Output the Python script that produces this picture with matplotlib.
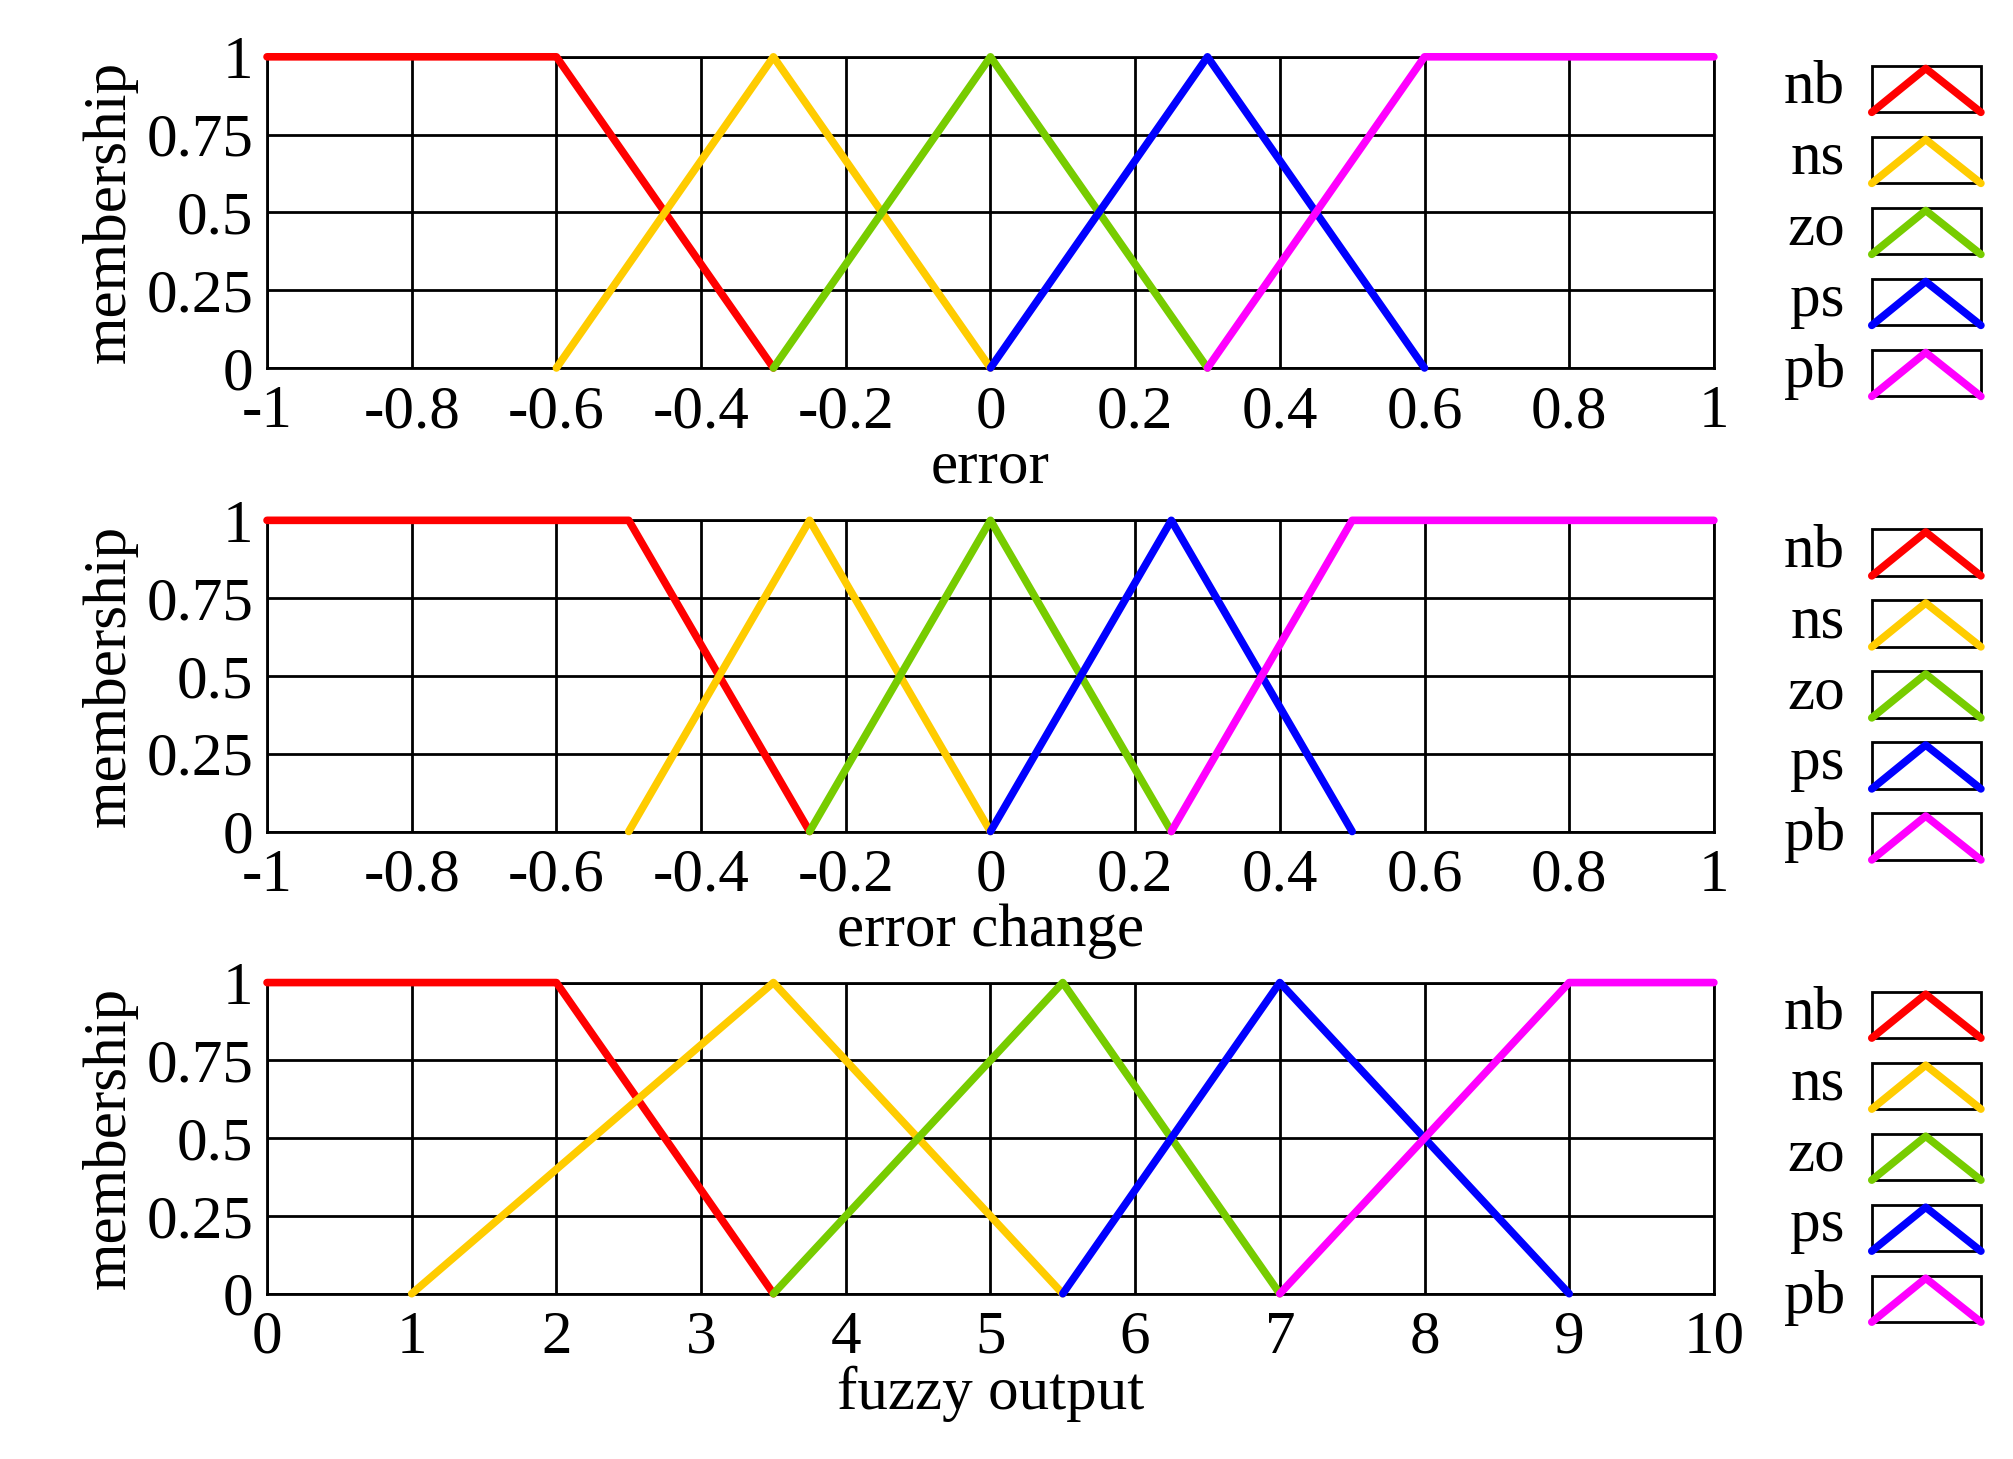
import matplotlib.pyplot as plt
import numpy as np

plt.rcParams['font.family'] = ['Liberation Serif', 'DejaVu Serif']

labels = ['nb', 'ns', 'zo', 'ps', 'pb']
colors = ['#ff0000', '#ffcc00', '#77cc00', '#0000ff', '#ff00ff']

# (x points, y points) for each membership function
err_x = [[-1, -0.6, -0.3], [-0.6, -0.3, 0], [-0.3, 0, 0.3], [0, 0.3, 0.6], [0.3, 0.6, 1]]
derr_x = [[-1, -0.5, -0.25], [-0.5, -0.25, 0], [-0.25, 0, 0.25], [0, 0.25, 0.5], [0.25, 0.5, 1]]
out_x = [[0, 2, 3.5], [1, 3.5, 5.5], [3.5, 5.5, 7], [5.5, 7, 9], [7, 9, 10]]
mf_y = [[1, 1, 0], [0, 1, 0], [0, 1, 0], [0, 1, 0], [0, 1, 1]]

panels = [
    (err_x, 'error', [-1, 1], np.arange(-1, 1.01, 0.2), ['-1', '-0.8', '-0.6', '-0.4', '-0.2', '0', '0.2', '0.4', '0.6', '0.8', '1']),
    (derr_x, 'error change', [-1, 1], np.arange(-1, 1.01, 0.2), ['-1', '-0.8', '-0.6', '-0.4', '-0.2', '0', '0.2', '0.4', '0.6', '0.8', '1']),
    (out_x, 'fuzzy output', [0, 10], np.arange(0, 11, 1), [str(i) for i in range(11)]),
]

W, H = 1568, 1130
fig = plt.figure(figsize=(20.13, 14.59), dpi=100)
tops = [44, 403, 761]
ph = 241
fs = 44

for (xs, xlabel, xlim, xt, xtl), top in zip(panels, tops):
    ax = fig.add_axes([208 / W, 1 - (top + ph) / H, 1127 / W, ph / H])
    for xx, yy, c in zip(xs, mf_y, colors):
        ax.plot(xx, yy, color=c, lw=5.5, solid_capstyle='round', zorder=3, clip_on=False)
    ax.set_xlim(xlim)
    ax.set_ylim(0, 1)
    ax.set_xticks(xt)
    ax.set_xticklabels(xtl)
    ax.set_yticks([0, 0.25, 0.5, 0.75, 1])
    ax.set_yticklabels(['0', '0.25', '0.5', '0.75', '1'])
    ax.grid(True, color='black', lw=2)
    ax.tick_params(length=0, labelsize=fs)
    ax.tick_params(axis='x', pad=12)
    ax.tick_params(axis='y', pad=10)
    for s in ax.spines.values():
        s.set_linewidth(2)
    ax.set_xlabel(xlabel, fontsize=fs, labelpad=0)
    ax.set_ylabel('membership', fontsize=fs, labelpad=6)

    # custom legend
    lg = fig.add_axes([1375 / W, 1 - (top + 290) / H, 175 / W, 290 / H])
    lg.set_xlim(0, 175)
    lg.set_ylim(290, 0)
    lg.axis('off')
    for k, (lab, c) in enumerate(zip(labels, colors)):
        yc = 24 + k * 55
        lg.text(62, yc, lab, fontsize=fs, ha='right', va='center')
        lg.add_patch(plt.Rectangle((83, yc - 17), 85, 36, fill=False, ec='black', lw=2))
        lg.plot([83, 125, 168], [yc + 19, yc - 15, yc + 19], color=c, lw=5.5,
                solid_capstyle='round', clip_on=False)

fig.savefig('out.png', dpi=100)
